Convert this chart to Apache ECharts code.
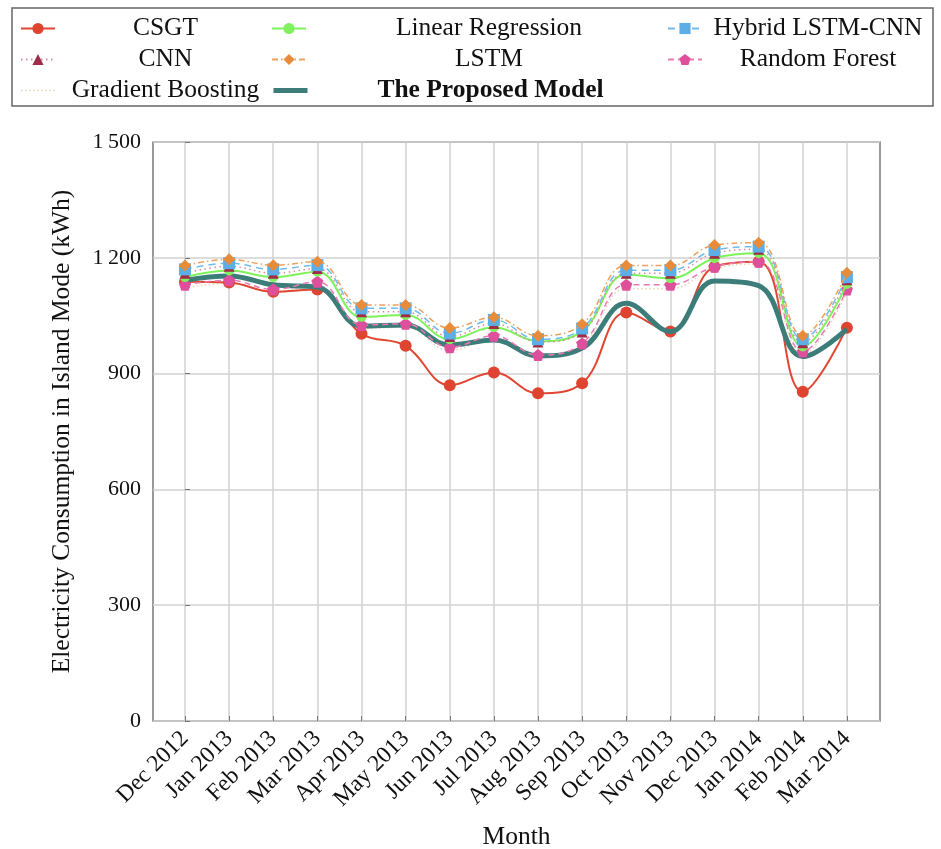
<!DOCTYPE html>
<html>
<head>
<meta charset="utf-8">
<script src="https://cdn.jsdelivr.net/npm/echarts@6/dist/echarts.min.js"></script>
<style>html,body{margin:0;padding:0;background:#fff;}#chart{width:941px;height:849px;}</style>
</head>
<body>
<div id="chart"></div>
<script>
const months = ['Dec 2012','Jan 2013','Feb 2013','Mar 2013','Apr 2013','May 2013','Jun 2013','Jul 2013','Aug 2013','Sep 2013','Oct 2013','Nov 2013','Dec 2013','Jan 2014','Feb 2014','Mar 2014'];
const yTicks = [0, 300, 600, 900, 1200, 1500];

const csgt             = [1138,1136,1112,1118,1003, 972, 870, 903, 849, 875,1058,1009,1177,1190, 853,1019];
const linearRegression = [1150,1167,1150,1164,1047,1052, 989,1020, 984,1010,1157,1147,1199,1212, 970,1132];
const hybridLstmCnn    = [1170,1186,1170,1181,1069,1069,1004,1039, 989,1017,1168,1168,1220,1229, 989,1150];
const cnn              = [1160,1178,1160,1172,1060,1060, 996,1030, 982,1008,1160,1160,1212,1222, 980,1143];
const lstm             = [1180,1196,1181,1190,1078,1078,1018,1046, 998,1028,1180,1180,1233,1239, 998,1161];
const randomForest     = [1130,1142,1118,1138,1026,1029, 968, 998, 948, 978,1130,1130,1177,1190, 957,1118];
const gradientBoosting = [1122,1134,1112,1128,1018,1020, 960, 990, 944, 972,1120,1120,1172,1184, 950,1110];
const proposedModel    = [1142,1153,1130,1124,1023,1026, 974, 987, 946, 966,1082,1009,1140,1128, 944,1015];

const FONT = 'Liberation Serif';
const idx = months.map((m, i) => i);
const pts = arr => arr.map((v, i) => [i, v]);
const pentagon = 'path://M0,-1 L0.951,-0.309 L0.588,0.809 L-0.588,0.809 L-0.951,-0.309 Z';

function mk(name, data, color, lineType, width, symbol, symbolSize, symbolColor, z) {
  return {
    name, type: 'line', data: pts(data), smooth: 0.4, z: z,
    symbol: symbol || 'none', symbolSize: symbolSize || 0, showSymbol: !!symbol,
    lineStyle: { color, width, type: lineType },
    itemStyle: { color: symbolColor || color, borderWidth: 0 },
    emphasis: { disabled: true }
  };
}

const series = [
  mk('Gradient Boosting', gradientBoosting, '#e6d2b5', [1.5, 2.5], 1.5, null, 0, null, 1),
  mk('CSGT', csgt, '#e04632', 'solid', 2, 'circle', 12, '#de4430', 2),
  mk('The Proposed Model', proposedModel, '#3c7d7a', 'solid', 5, null, 0, null, 3),
  mk('Random Forest', randomForest, '#e77bb3', [6, 4], 1.5, pentagon, 12, '#de4f9c', 4),
  mk('Linear Regression', linearRegression, '#7df25a', 'solid', 2, 'circle', 10, '#80f05e', 5),
  mk('CNN', cnn, '#d98a9c', [1.5, 3.5], 1.5, 'triangle', 11, '#9e2d48', 6),
  mk('Hybrid LSTM-CNN', hybridLstmCnn, '#6fbbea', [7, 5], 1.5, 'rect', 12, '#5daee6', 7),
  mk('LSTM', lstm, '#eda15e', [6, 3, 1.5, 3], 1.5, 'diamond', 12, '#e88c3a', 8)
];

const legendOrder = ['CSGT','Linear Regression','Hybrid LSTM-CNN','CNN','LSTM','Random Forest','Gradient Boosting','The Proposed Model'];
const colKey = { 'CSGT':'a', 'CNN':'a', 'Gradient Boosting':'a', 'Linear Regression':'b', 'LSTM':'b', 'The Proposed Model':'p', 'Hybrid LSTM-CNN':'c', 'Random Forest':'c' };
const txt = { fontFamily: FONT, fontSize: 25.5, color: '#111', height: 31, lineHeight: 31 };

function legendItem(n) {
  if (n === 'Gradient Boosting') return { name: n, itemStyle: { opacity: 0 }, lineStyle: { width: 1.5 } };
  if (n === 'The Proposed Model') return { name: n, itemStyle: { opacity: 0 }, lineStyle: { width: 5 } };
  return n;
}

const option = {
  animation: false,
  backgroundColor: '#fff',
  textStyle: { fontFamily: FONT },
  legend: {
    data: legendOrder.map(legendItem),
    left: 12, top: 8, width: 918,
    orient: 'horizontal',
    itemGap: 0,
    itemWidth: 34, itemHeight: 14,
    padding: [5, 4, 0, 8],
    borderColor: '#666', borderWidth: 1.5,
    selectedMode: false,
    formatter: name => '{' + colKey[name] + '|' + name + '}',
    textStyle: {
      fontFamily: FONT, fontSize: 25.5, color: '#111',
      rich: {
        a: Object.assign({ width: 211, align: 'center' }, txt),
        b: Object.assign({ width: 356, align: 'center' }, txt),
        p: Object.assign({ width: 356, align: 'center', fontWeight: 'bold', fontSize: 24.5 }, txt),
        c: Object.assign({ width: 222, align: 'center' }, txt)
      }
    }
  },
  grid: {
    left: 153, right: 61, top: 142, bottom: 128,
    show: true, borderColor: '#7a7a7a', borderWidth: 1.5, backgroundColor: '#fff',
    containLabel: false, outerBoundsMode: 'none'
  },
  xAxis: {
    type: 'value', min: -0.725, max: 15.75,
    name: 'Month', nameLocation: 'middle', nameGap: 103,
    nameTextStyle: { fontFamily: FONT, fontSize: 25.5, color: '#111' },
    axisLine: { show: false },
    axisTick: { show: true, inside: true, length: 5, customValues: idx, lineStyle: { color: '#777' } },
    axisLabel: {
      customValues: idx, rotate: 45, margin: 14,
      formatter: v => months[Math.round(v)],
      fontFamily: FONT, fontSize: 23.5, color: '#111'
    },
    splitLine: { show: true, lineStyle: { color: '#d2d2d2', width: 1.5 } }
  },
  yAxis: {
    type: 'value', min: 0, max: 1500, interval: 300,
    name: 'Electricity Consumption in Island Mode (kWh)', nameLocation: 'middle', nameGap: 78, nameRotate: 90,
    nameTextStyle: { fontFamily: FONT, fontSize: 25.5, color: '#111' },
    axisLine: { show: false },
    axisTick: { show: true, inside: true, length: 5, lineStyle: { color: '#777' } },
    axisLabel: {
      margin: 12, fontFamily: FONT, fontSize: 22, color: '#111',
      formatter: v => v >= 1000 ? String(v).replace(/^(\d)(\d{3})$/, '$1\u2009$2') : String(v)
    },
    splitLine: { show: true, lineStyle: { color: '#d2d2d2', width: 1.5 } }
  },
  series
};

const chart = echarts.init(document.getElementById('chart'), null, { renderer: 'canvas' });
chart.setOption(option);
</script>
</body>
</html>
